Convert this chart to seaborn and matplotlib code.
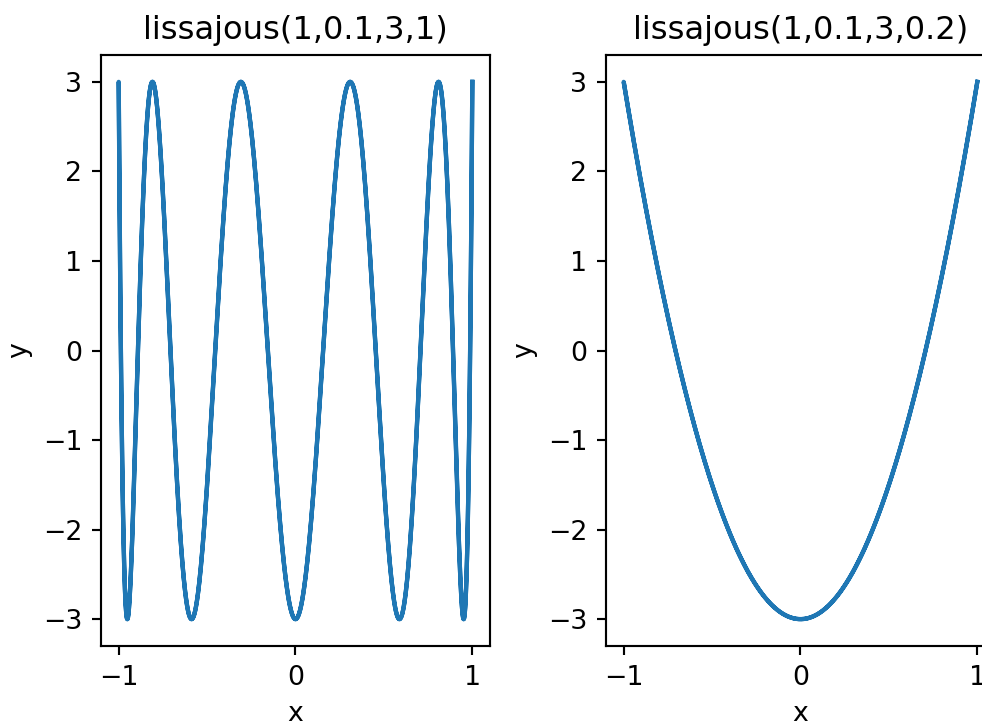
import numpy as np
import pandas as pd
import matplotlib
matplotlib.use("Agg")
import matplotlib.pyplot as plt
import seaborn as sns

# Lissajous parameters (A, a, B, b)
amp_x = [1, 1]
freq_x = [0.1, 0.1]
amp_y = [3, 3]
freq_y = [1, 0.2]
titles = ["lissajous(1,0.1,3,1)", "lissajous(1,0.1,3,0.2)"]
x_ticks = [-1, 0, 1]
y_ticks = [-3, -2, -1, 0, 1, 2, 3]

W, H, DPI = 982, 723, 193
fig = plt.figure(figsize=(W / DPI, H / DPI), dpi=DPI)
positions = [
    [101 / W, 77 / H, 389 / W, 591 / H],
    [606 / W, 77 / H, 389 / W, 591 / H],
]

for i in range(2):
    t = np.linspace(0, 2 * np.pi / freq_x[i], 20000)
    df = pd.DataFrame({
        "t": t,
        "x": amp_x[i] * np.cos(freq_x[i] * t),
        "y": amp_y[i] * np.cos(freq_y[i] * t),
    })
    ax = fig.add_axes(positions[i])
    sns.lineplot(data=df, x="x", y="y", sort=False, estimator=None,
                 color="#1f77b4", linewidth=1.6, ax=ax)
    ax.set_title(titles[i], fontsize=12)
    ax.set_xticks(x_ticks)
    ax.set_yticks(y_ticks)
    ax.set_xlabel("x", fontsize=10)
    ax.set_ylabel("y", fontsize=10)
    ax.tick_params(labelsize=10)

fig.savefig("out.png", dpi=DPI)
